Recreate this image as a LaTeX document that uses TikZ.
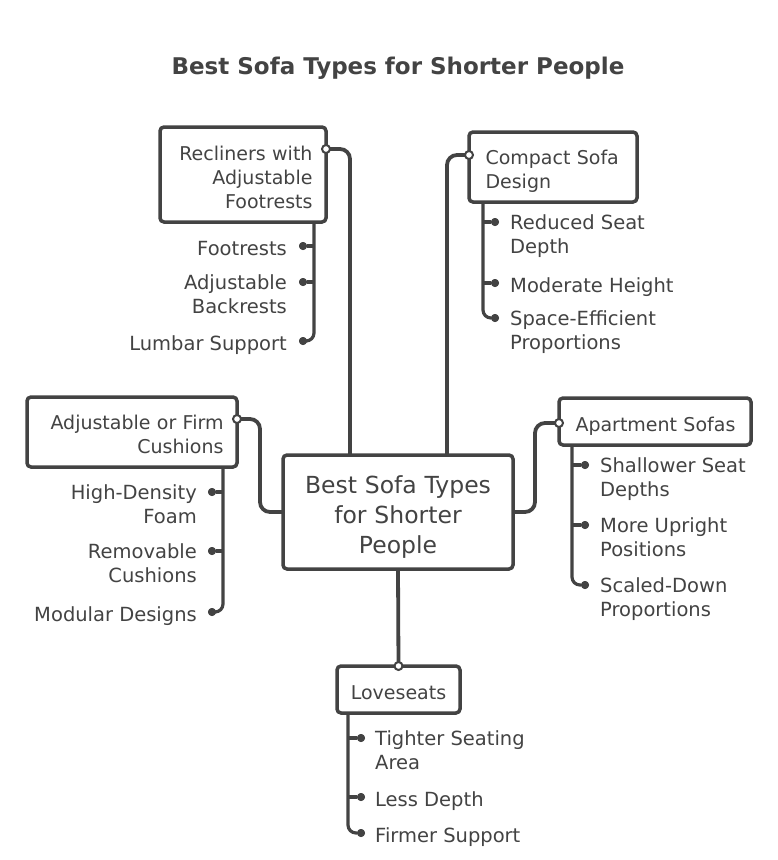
\documentclass[tikz,border=0pt]{standalone}
\usepackage{fontspec}
\setmainfont{DejaVu Sans}
\definecolor{ink}{RGB}{67,67,67}
\newcommand\boxtopstrut{\hyphenpenalty=10000\exhyphenpenalty=10000\rule{0pt}{\dimexpr0.7\baselineskip+10pt\relax}}
\newcommand\leaftopstrut{\rule{0pt}{17pt}}
\begin{document}
\begin{tikzpicture}[x=1pt,y=-1pt,
  every node/.style={text=ink},
  box/.style={draw=ink, line width=3.5pt, rounded corners=4pt, fill=white,
    font=\fontsize{19}{24}\selectfont, inner ysep=0pt, inner xsep=12pt, outer sep=0pt,
    anchor=north west, execute at begin node=\boxtopstrut, execute at end node=\strut},
  link/.style={draw=ink, line width=3.8pt, rounded corners=10pt},
  stem/.style={draw=ink, line width=3.2pt, rounded corners=8pt},
  dotmark/.style={circle, fill=ink, inner sep=0pt, minimum size=8pt},
  port/.style={circle, draw=ink, fill=white, line width=2pt, inner sep=0pt, minimum size=8pt},
  leafl/.style={font=\fontsize{19.5}{24}\selectfont, inner sep=0pt, align=left, anchor=north west, execute at begin node=\leaftopstrut},
  leafr/.style={font=\fontsize{19.5}{24}\selectfont, inner sep=0pt, align=right, anchor=north east, execute at begin node=\leaftopstrut},
]
\useasboundingbox (0,0) rectangle (778,860);
\fill[white] (0,0) rectangle (778,860);

\node[font=\bfseries\fontsize{23}{27}\selectfont] (title) at (398,68) {Best Sofa Types for Shorter People};

% main boxes
\node[box, font=\fontsize{23.5}{30}\selectfont, minimum width=230pt, minimum height=114pt, text width=206pt, align=center] (ctr) at (283,455) {Best Sofa Types\\for Shorter\\People};
\node[box, minimum width=166pt, minimum height=95pt, text width=139pt, align=right] (rec) at (160,127) {Recliners with\\Adjustable\\Footrests};
\node[box, minimum width=168pt, minimum height=70pt, text width=141pt, align=left] (cmp) at (469,132) {\hspace*{3pt}Compact Sofa\\\hspace*{3pt}Design};
\node[box, minimum width=210pt, minimum height=70pt, text width=183pt, align=right] (adj) at (27,397) {Adjustable or Firm\\Cushions};
\node[box, minimum width=192pt, minimum height=47pt, text width=165pt, align=left] (apt) at (559,398) {\hspace*{3pt}Apartment Sofas};
\node[box, minimum width=123pt, minimum height=47pt, text width=96pt, align=center] (lov) at (337,666) {Loveseats};

% connectors to centre
\coordinate (recP) at (326,149);
\coordinate (recJ) at (350,149);
\draw[link] (recP) -- (recJ) -- (recJ |- ctr.north);
\coordinate (cmpP) at (469,155);
\coordinate (cmpJ) at (447,155);
\draw[link] (cmpP) -- (cmpJ) -- (cmpJ |- ctr.north);
\coordinate (adjP) at (237,419);
\coordinate (adjJ) at (260,419);
\draw[link] (adjP) -- (adjJ) |- (ctr.west);
\coordinate (aptP) at (559,423);
\coordinate (aptJ) at (535,423);
\draw[link] (aptP) -- (aptJ) |- (ctr.east);
\draw[link] (ctr.south) -- (lov.north);

\node[port] (recPort) at (recP) {};
\node[port] (cmpPort) at (cmpP) {};
\node[port] (adjPort) at (adjP) {};
\node[port] (aptPort) at (aptP) {};
\node[port] (lovPort) at (lov.north) {};

% Recliners leaves
\coordinate (recS) at (314,222);
\node[dotmark] (r1) at (303,246) {};
\node[dotmark] (r2) at (303,282) {};
\node[dotmark] (r3) at (303,341) {};
\draw[stem] (recS) |- (r3);
\draw[stem] (r1 -| recS) -- (r1);
\draw[stem] (r2 -| recS) -- (r2);
\node[dotmark] at (r1) {};
\node[dotmark] at (r2) {};
\node[dotmark] at (r3) {};
\node[leafr] (r1t) at (287,238) {Footrests};
\node[leafr] (r2t) at (287,274) {Adjustable\\Backrests};
\node[leafr] (r3t) at (287,333) {Lumbar Support};

% Compact leaves
\coordinate (cmpS) at (483,202);
\node[dotmark] (c1) at (495,222) {};
\node[dotmark] (c2) at (495,283) {};
\node[dotmark] (c3) at (495,318) {};
\draw[stem] (cmpS) |- (c3);
\draw[stem] (c1 -| cmpS) -- (c1);
\draw[stem] (c2 -| cmpS) -- (c2);
\node[dotmark] at (c1) {};
\node[dotmark] at (c2) {};
\node[dotmark] at (c3) {};
\node[leafl] (c1t) at (510,214) {Reduced Seat\\Depth};
\node[leafl] (c2t) at (510,275) {Moderate Height};
\node[leafl] (c3t) at (510,310) {Space-Efficient\\Proportions};

% Adjustable leaves
\coordinate (adjS) at (223,467);
\node[dotmark] (a1) at (212,492) {};
\node[dotmark] (a2) at (212,551) {};
\node[dotmark] (a3) at (212,612) {};
\draw[stem] (adjS) |- (a3);
\draw[stem] (a1 -| adjS) -- (a1);
\draw[stem] (a2 -| adjS) -- (a2);
\node[dotmark] at (a1) {};
\node[dotmark] at (a2) {};
\node[dotmark] at (a3) {};
\node[leafr] (a1t) at (197,484) {High-Density\\Foam};
\node[leafr] (a2t) at (197,543) {Removable\\Cushions};
\node[leafr] (a3t) at (197,604) {Modular Designs};

% Apartment leaves
\coordinate (aptS) at (572,445);
\node[dotmark] (p1) at (585,465) {};
\node[dotmark] (p2) at (585,525) {};
\node[dotmark] (p3) at (585,585) {};
\draw[stem] (aptS) |- (p3);
\draw[stem] (p1 -| aptS) -- (p1);
\draw[stem] (p2 -| aptS) -- (p2);
\node[dotmark] at (p1) {};
\node[dotmark] at (p2) {};
\node[dotmark] at (p3) {};
\node[leafl] (p1t) at (600,457) {Shallower Seat\\Depths};
\node[leafl] (p2t) at (600,517) {More Upright\\Positions};
\node[leafl] (p3t) at (600,577) {Scaled-Down\\Proportions};

% Loveseat leaves
\coordinate (lovS) at (348,713);
\node[dotmark] (l1) at (361,738) {};
\node[dotmark] (l2) at (361,797) {};
\node[dotmark] (l3) at (361,833) {};
\draw[stem] (lovS) |- (l3);
\draw[stem] (l1 -| lovS) -- (l1);
\draw[stem] (l2 -| lovS) -- (l2);
\node[dotmark] at (l1) {};
\node[dotmark] at (l2) {};
\node[dotmark] at (l3) {};
\node[leafl] (l1t) at (375,730) {Tighter Seating\\Area};
\node[leafl] (l2t) at (375,789) {Less Depth};
\node[leafl] (l3t) at (375,825) {Firmer Support};
\end{tikzpicture}
\end{document}
